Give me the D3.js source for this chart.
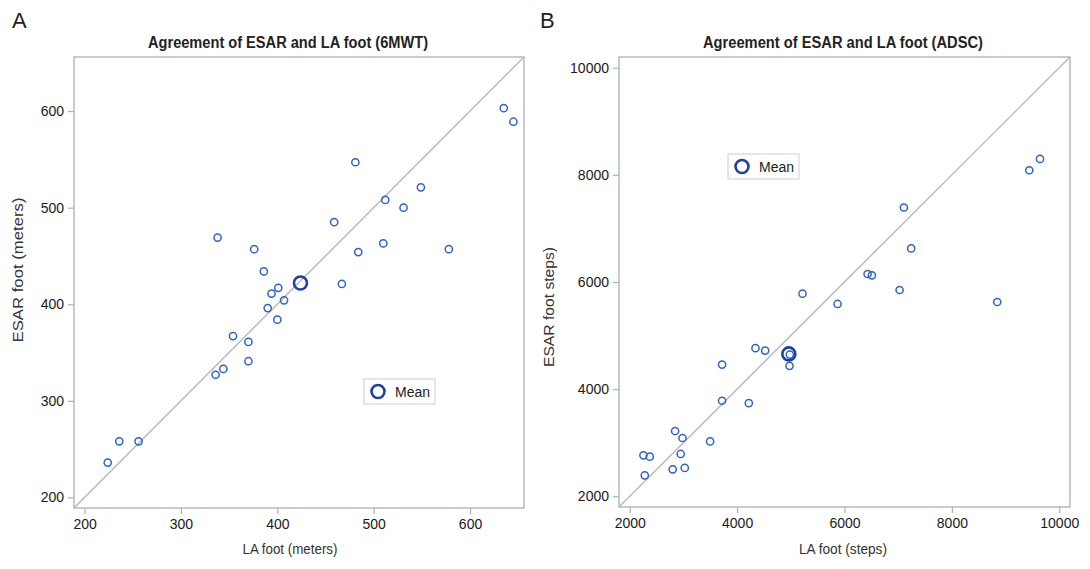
<!DOCTYPE html>
<html>
<head>
<meta charset="utf-8">
<script src="https://cdn.jsdelivr.net/npm/d3@7"></script>
<style>
  body { margin: 0; background: #fff; }
  svg { display: block; font-family: "Liberation Sans", Arial, sans-serif; }
</style>
</head>
<body>
<div id="chart"></div>
<script>
// ---- data ----
// Panel A: 6MWT, meters
const laFootA   = [635, 645, 481, 549, 512, 531, 459, 338, 510, 376, 578, 484, 386, 467,
                   401, 394, 407, 390, 400, 354, 370, 370, 344, 336, 236, 256, 224];
const esarFootA = [603, 589, 547, 521, 508, 500, 485, 469, 463, 457, 457, 454, 434, 421,
                   417, 411, 404, 396, 384, 367, 361, 341, 333, 327, 258, 258, 236];
const meanA = [424, 422];

// Panel B: ADSC, steps
const laFootB   = [9641, 9441, 7106, 7242, 6430, 6510, 7026, 5218, 8845, 5871, 4342, 4522,
                   4982, 4976, 3720, 3720, 4218, 2845, 2982, 3497, 2255, 2373, 2950, 2801,
                   3025, 2280];
const esarFootB = [8297, 8086, 7391, 6627, 6149, 6124, 5851, 5782, 5627, 5590, 4765, 4720,
                   4645, 4435, 4459, 3783, 3740, 3218, 3088, 3025, 2764, 2740, 2790, 2503,
                   2529, 2391];
const meanB = [4963, 4658];

const ticksA = [200, 300, 400, 500, 600];
const ticksB = [2000, 4000, 6000, 8000, 10000];

const W = 1090, H = 569;
const frameColor = '#A9B1B9';
const lineColor = '#B4B8BB';
const pointColor = '#2F62C2';
const meanColor = '#1D429E';

const svg = d3.select('#chart').append('svg')
    .attr('width', W)
    .attr('height', H);

function drawPanel(opt) {
    const x = d3.scaleLinear().domain(opt.domain).range([opt.left, opt.right]);
    const y = d3.scaleLinear().domain(opt.domain).range([opt.bottom, opt.top]);
    const g = svg.append('g');

    // panel letter
    g.append('text')
        .attr('x', opt.letterX)
        .attr('y', 28)
        .attr('font-size', '22px')
        .attr('fill', '#222')
        .text(opt.letter);

    // title
    g.append('text')
        .attr('x', opt.titleX)
        .attr('y', 48)
        .attr('text-anchor', 'middle')
        .attr('font-size', '16px')
        .attr('font-weight', 'bold')
        .attr('fill', '#222')
        .attr('textLength', 280)
        .attr('lengthAdjust', 'spacingAndGlyphs')
        .text(opt.title);

    // frame
    g.append('rect')
        .attr('x', opt.left)
        .attr('y', opt.top)
        .attr('width', opt.right - opt.left)
        .attr('height', opt.bottom - opt.top)
        .attr('fill', 'none')
        .attr('stroke', frameColor)
        .attr('stroke-width', 1.3);

    // axes
    const fmt = d3.format('d');
    const xAxis = g.append('g')
        .attr('transform', `translate(0,${opt.bottom})`)
        .call(d3.axisBottom(x).tickValues(opt.ticks).tickFormat(fmt).tickSize(6).tickPadding(5));
    const yAxis = g.append('g')
        .attr('transform', `translate(${opt.left},0)`)
        .call(d3.axisLeft(y).tickValues(opt.ticks).tickFormat(fmt).tickSize(6).tickPadding(4));
    [xAxis, yAxis].forEach(a => {
        a.select('.domain').remove();
        a.selectAll('.tick line').attr('stroke', frameColor).attr('stroke-width', 1.2);
        a.selectAll('.tick text')
            .attr('font-size', '14px')
            .attr('font-family', '"Liberation Sans", Arial, sans-serif')
            .attr('fill', '#1a1a1a');
    });

    // axis labels
    g.append('text')
        .attr('x', opt.xLabelX)
        .attr('y', 554)
        .attr('text-anchor', 'middle')
        .attr('font-size', '14px')
        .attr('fill', '#333')
        .attr('textLength', opt.xLabelLen)
        .attr('lengthAdjust', 'spacingAndGlyphs')
        .text(opt.xLabel);
    g.append('text')
        .attr('transform', `translate(${opt.yLabelX},${opt.yLabelY}) rotate(-90)`)
        .attr('text-anchor', 'middle')
        .attr('font-size', '14px')
        .attr('fill', '#333')
        .attr('textLength', opt.yLabelLen)
        .attr('lengthAdjust', 'spacingAndGlyphs')
        .text(opt.yLabel);

    // line of identity
    g.append('line')
        .attr('x1', x(opt.domain[0]))
        .attr('y1', y(opt.domain[0]))
        .attr('x2', x(opt.domain[1]))
        .attr('y2', y(opt.domain[1]))
        .attr('stroke', lineColor)
        .attr('stroke-width', 1.4);

    // mean marker
    g.append('circle')
        .attr('cx', x(opt.mean[0]))
        .attr('cy', y(opt.mean[1]))
        .attr('r', 6.5)
        .attr('fill', 'none')
        .attr('stroke', meanColor)
        .attr('stroke-width', 2.6);

    // points
    const pts = opt.xs.map((v, i) => [v, opt.ys[i]]);
    g.selectAll('circle.pt').data(pts).enter().append('circle')
        .attr('class', 'pt')
        .attr('cx', d => x(d[0]))
        .attr('cy', d => y(d[1]))
        .attr('r', 3.6)
        .attr('fill', 'none')
        .attr('stroke', pointColor)
        .attr('stroke-width', 1.5);

    // legend
    const lg = g.append('g').attr('transform', `translate(${opt.legend[0]},${opt.legend[1]})`);
    lg.append('rect')
        .attr('width', 71)
        .attr('height', 25)
        .attr('fill', '#fff')
        .attr('stroke', '#C9CDD1')
        .attr('stroke-width', 1);
    lg.append('circle')
        .attr('cx', 14)
        .attr('cy', 12.5)
        .attr('r', 6.5)
        .attr('fill', 'none')
        .attr('stroke', meanColor)
        .attr('stroke-width', 2.6);
    lg.append('text')
        .attr('x', 31)
        .attr('y', 17.5)
        .attr('font-size', '14px')
        .attr('fill', '#222')
        .text('Mean');
}

drawPanel({
    letter: 'A', letterX: 12,
    title: 'Agreement of ESAR and LA foot (6MWT)', titleX: 288,
    domain: [189, 656], ticks: ticksA,
    left: 74, right: 524, top: 57, bottom: 508,
    xLabel: 'LA foot (meters)', xLabelX: 290, xLabelLen: 95,
    yLabel: 'ESAR foot (meters)', yLabelX: 23, yLabelY: 270, yLabelLen: 145,
    xs: laFootA, ys: esarFootA, mean: meanA,
    legend: [364, 379]
});

drawPanel({
    letter: 'B', letterX: 540,
    title: 'Agreement of ESAR and LA foot (ADSC)', titleX: 843,
    domain: [1800, 10200], ticks: ticksB,
    left: 619, right: 1070, top: 57, bottom: 507,
    xLabel: 'LA foot (steps)', xLabelX: 843, xLabelLen: 88,
    yLabel: 'ESAR foot steps)', yLabelX: 554, yLabelY: 307, yLabelLen: 120,
    xs: laFootB, ys: esarFootB, mean: meanB,
    legend: [728, 154]
});
</script>
</body>
</html>
